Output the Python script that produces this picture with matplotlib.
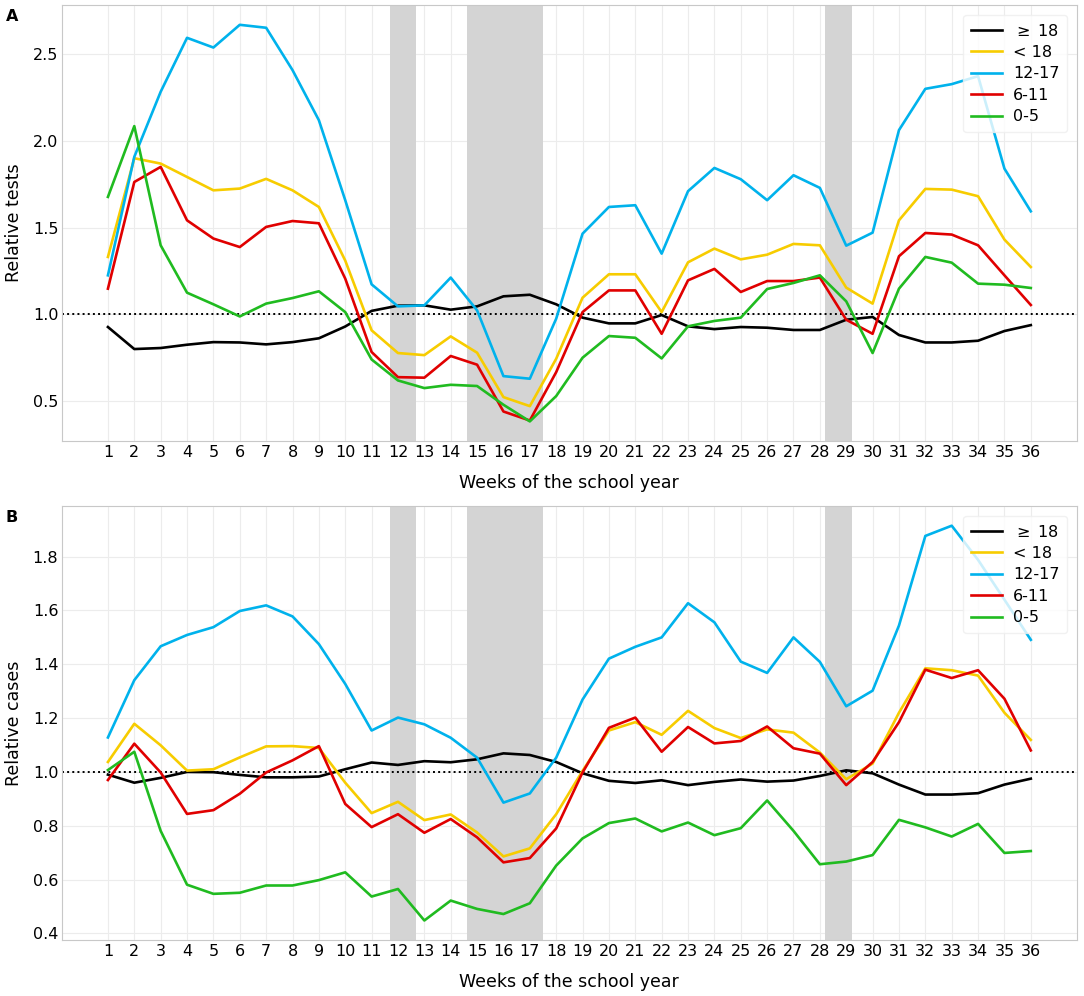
import numpy as np
import matplotlib
matplotlib.use('Agg')
import matplotlib.pyplot as plt

weeks = np.arange(1, 37)

# breaks (in week units) shaded grey
holidays = [(11.7, 12.7), (14.6, 17.5), (28.2, 29.2)]

labels = ['$\\geq$ 18', '< 18', '12-17', '6-11', '0-5']
colors = ['#000000', '#f7cc00', '#00b2ec', '#e00000', '#20bb20']

# panel A: relative tests
tests_adult = [0.927, 0.80, 0.806, 0.825, 0.84, 0.838, 0.827, 0.84, 0.862, 0.93, 1.02, 1.05,
               1.052, 1.027, 1.046, 1.104, 1.113, 1.058, 0.981, 0.948, 0.948, 0.996, 0.931, 0.915,
               0.927, 0.923, 0.91, 0.91, 0.969, 0.985, 0.881, 0.838, 0.838, 0.848, 0.904, 0.938]
tests_u18 = [1.331, 1.90, 1.869, 1.792, 1.715, 1.725, 1.781, 1.715, 1.619, 1.31, 0.908, 0.777,
             0.765, 0.873, 0.779, 0.523, 0.471, 0.744, 1.096, 1.231, 1.231, 1.013, 1.30, 1.379,
             1.317, 1.344, 1.406, 1.398, 1.154, 1.062, 1.542, 1.723, 1.719, 1.681, 1.431, 1.273]
tests_12_17 = [1.225, 1.908, 2.283, 2.594, 2.538, 2.669, 2.652, 2.408, 2.119, 1.658, 1.173, 1.046,
               1.052, 1.212, 1.023, 0.644, 0.629, 0.975, 1.465, 1.619, 1.629, 1.35, 1.71, 1.844,
               1.779, 1.658, 1.802, 1.729, 1.396, 1.471, 2.062, 2.30, 2.327, 2.373, 1.84, 1.594]
tests_6_11 = [1.148, 1.763, 1.85, 1.542, 1.437, 1.388, 1.504, 1.538, 1.525, 1.206, 0.783, 0.638,
              0.635, 0.76, 0.71, 0.44, 0.388, 0.667, 1.013, 1.138, 1.138, 0.888, 1.196, 1.262,
              1.129, 1.192, 1.192, 1.212, 0.969, 0.888, 1.335, 1.469, 1.46, 1.398, 1.225, 1.054]
tests_0_5 = [1.677, 2.085, 1.398, 1.125, 1.058, 0.988, 1.062, 1.094, 1.133, 1.013, 0.74, 0.619,
             0.575, 0.594, 0.587, 0.479, 0.383, 0.529, 0.75, 0.875, 0.865, 0.746, 0.931, 0.962,
             0.981, 1.146, 1.181, 1.225, 1.075, 0.777, 1.148, 1.331, 1.298, 1.177, 1.171, 1.152]

# panel B: relative cases
cases_adult = [0.99, 0.96, 0.978, 1.0, 0.999, 0.989, 0.98, 0.98, 0.983, 1.01, 1.035, 1.026,
               1.04, 1.036, 1.047, 1.069, 1.063, 1.037, 0.995, 0.967, 0.959, 0.969, 0.951, 0.963,
               0.972, 0.964, 0.968, 0.985, 1.006, 0.995, 0.953, 0.916, 0.916, 0.921, 0.953, 0.975]
cases_u18 = [1.037, 1.179, 1.099, 1.005, 1.01, 1.054, 1.095, 1.096, 1.089, 0.96, 0.847, 0.889,
             0.821, 0.842, 0.775, 0.686, 0.716, 0.843, 1.004, 1.154, 1.185, 1.138, 1.227, 1.163,
             1.126, 1.158, 1.146, 1.072, 0.973, 1.031, 1.22, 1.385, 1.378, 1.358, 1.22, 1.119]
cases_12_17 = [1.128, 1.341, 1.467, 1.509, 1.538, 1.598, 1.619, 1.578, 1.475, 1.327, 1.154, 1.202,
               1.177, 1.127, 1.053, 0.886, 0.92, 1.053, 1.269, 1.421, 1.465, 1.50, 1.627, 1.556,
               1.41, 1.368, 1.50, 1.409, 1.244, 1.302, 1.544, 1.877, 1.915, 1.788, 1.64, 1.491]
cases_6_11 = [0.97, 1.105, 0.998, 0.844, 0.858, 0.919, 0.998, 1.043, 1.096, 0.881, 0.795, 0.843,
              0.774, 0.825, 0.757, 0.664, 0.68, 0.79, 0.998, 1.164, 1.202, 1.075, 1.167, 1.106,
              1.115, 1.169, 1.088, 1.068, 0.951, 1.037, 1.185, 1.38, 1.349, 1.378, 1.272, 1.08]
cases_0_5 = [1.007, 1.075, 0.781, 0.581, 0.547, 0.551, 0.578, 0.578, 0.598, 0.627, 0.537, 0.565,
             0.448, 0.522, 0.491, 0.472, 0.512, 0.652, 0.753, 0.81, 0.827, 0.779, 0.812, 0.765,
             0.791, 0.894, 0.781, 0.657, 0.667, 0.691, 0.822, 0.794, 0.76, 0.807, 0.699, 0.706]

tests = [tests_adult, tests_u18, tests_12_17, tests_6_11, tests_0_5]
cases = [cases_adult, cases_u18, cases_12_17, cases_6_11, cases_0_5]


def draw_panel(ax, series, ylabel, letter, yticks):
    for lo, hi in holidays:
        ax.axvspan(lo, hi, color='#d4d4d4', lw=0, zorder=1)
    ax.axhline(1.0, color='black', ls=':', lw=1.4, zorder=2)
    for s, c, lab in zip(series, colors, labels):
        ax.plot(weeks, s, color=c, lw=1.9, label=lab, zorder=3)
    ax.set_xticks(weeks)
    ax.set_yticks(yticks)
    ax.grid(True, color='#ececec', lw=0.8, zorder=0)
    ax.set_axisbelow(True)
    ax.tick_params(length=0, labelsize=11.5, pad=2.5)
    for sp in ax.spines.values():
        sp.set_color('#c8c8c8')
    ax.set_ylabel(ylabel, fontsize=12.5, labelpad=7)
    ax.set_xlabel('Weeks of the school year', fontsize=12.5, labelpad=10)
    ax.legend(loc='upper right', fontsize=11.5, frameon=True, framealpha=0.8,
              edgecolor='#eeeeee', handlelength=1.9, handletextpad=0.7,
              borderpad=0.5, labelspacing=0.4, borderaxespad=0.6)
    ax.text(-0.055, 0.99, letter, transform=ax.transAxes, fontsize=11.5,
            fontweight='bold', va='top', ha='left')


fig = plt.figure(figsize=[10.84, 9.96], dpi=100)
ax1 = fig.add_axes([0.057, 0.557, 0.9365, 0.438])
ax2 = fig.add_axes([0.057, 0.056, 0.9365, 0.436])

draw_panel(ax1, tests, 'Relative tests', 'A', [0.5, 1.0, 1.5, 2.0, 2.5])
draw_panel(ax2, cases, 'Relative cases', 'B', [0.4, 0.6, 0.8, 1.0, 1.2, 1.4, 1.6, 1.8])

fig.savefig('out.png', dpi=100)
